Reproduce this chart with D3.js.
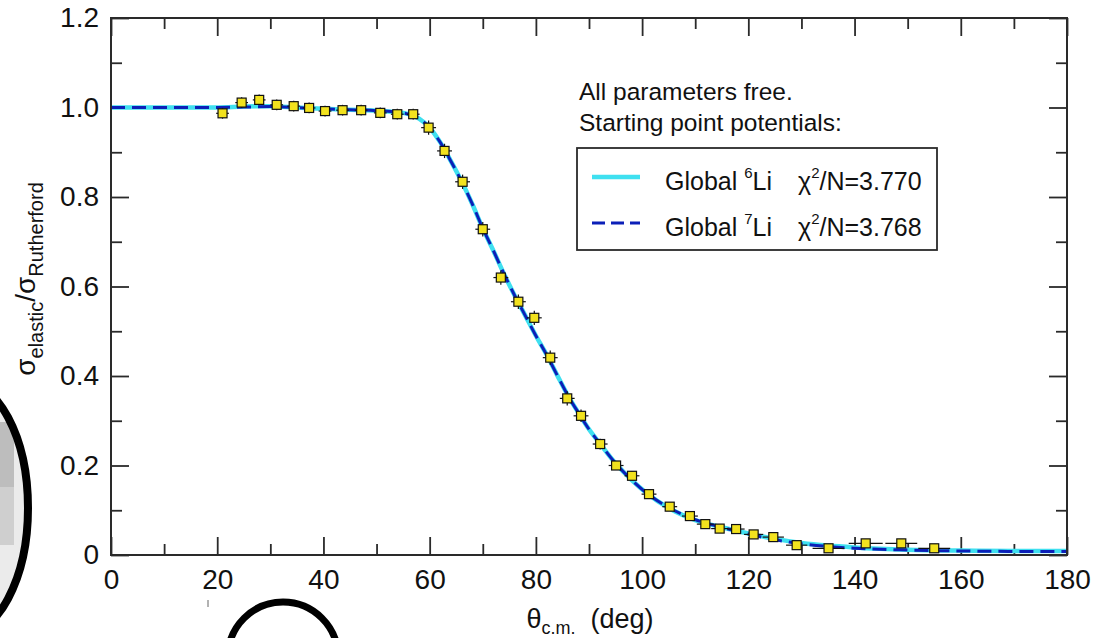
<!DOCTYPE html>
<html>
<head>
<meta charset="utf-8">
<script src="https://cdn.jsdelivr.net/npm/d3@7"></script>
<style>
  html, body { margin: 0; padding: 0; background: #fff; }
  svg { display: block; }
  text { font-family: "Liberation Sans", Arial, Helvetica, sans-serif; fill: #111; }
</style>
</head>
<body>
<svg id="chart" width="1105" height="638"></svg>
<script>
// ---------------- data ----------------
const expTheta = [21.0, 24.6, 27.9, 31.2, 34.4, 37.3, 40.3, 43.6, 47.1, 50.7, 53.9, 56.9,
  59.8, 62.8, 66.2, 70.0, 73.4, 76.7, 79.7, 82.7, 85.9, 88.5, 92.1, 95.1, 98.1, 101.3,
  105.2, 109.0, 111.9, 114.6, 117.7, 121.0, 124.7, 129.1, 135.1, 142.1, 148.8, 155.0];
const expRatio = [0.987, 1.011, 1.017, 1.006, 1.003, 0.999, 0.992, 0.994, 0.994, 0.988, 0.985, 0.985,
  0.955, 0.903, 0.834, 0.728, 0.620, 0.566, 0.530, 0.441, 0.350, 0.311, 0.248, 0.200, 0.177, 0.136,
  0.108, 0.087, 0.069, 0.059, 0.058, 0.046, 0.040, 0.022, 0.015, 0.026, 0.026, 0.015];
const expThetaErr = [1.2, 1.2, 1.2, 1.2, 1.2, 1.2, 1.2, 1.2, 1.2, 1.2, 1.2, 1.2,
  1.4, 1.4, 1.4, 1.4, 1.4, 1.4, 1.4, 1.4, 1.4, 1.4, 1.4, 1.4, 1.4, 1.4,
  1.4, 1.5, 1.6, 1.6, 1.6, 1.8, 2.0, 2.0, 3.0, 3.2, 3.0, 3.0];
const expRatioErr = [0.012, 0.012, 0.012, 0.012, 0.012, 0.012, 0.012, 0.012, 0.012, 0.012, 0.012, 0.012,
  0.016, 0.016, 0.016, 0.016, 0.016, 0.016, 0.016, 0.016, 0.016, 0.014, 0.012, 0.010, 0.010, 0.010,
  0.008, 0.008, 0.006, 0.006, 0.006, 0.006, 0.006, 0.006, 0.005, 0.005, 0.005, 0.005];

const curveTheta = [0, 10, 20, 25, 30, 35, 40, 45, 50, 55, 58, 60, 62, 64, 66, 68, 70, 72, 74, 76, 78,
  80, 82, 84, 86, 88, 90, 92, 95, 98, 101, 105, 110, 115, 120, 125, 130, 135, 140, 150, 160, 170, 180];
const li6Ratio = [1.0, 1.0, 1.0, 1.002, 1.003, 1.0, 0.997, 0.995, 0.993, 0.988, 0.975, 0.955, 0.922, 0.88,
  0.835, 0.785, 0.73, 0.68, 0.628, 0.58, 0.535, 0.49, 0.448, 0.402, 0.357, 0.318, 0.281, 0.25, 0.205,
  0.168, 0.137, 0.105, 0.078, 0.062, 0.048, 0.036, 0.027, 0.021, 0.017, 0.012, 0.010, 0.009, 0.009];
const li7Ratio = [1.0, 1.0, 1.0, 1.001, 1.002, 1.0, 0.997, 0.995, 0.993, 0.988, 0.975, 0.955, 0.922, 0.88,
  0.835, 0.785, 0.73, 0.68, 0.628, 0.58, 0.535, 0.49, 0.448, 0.402, 0.357, 0.318, 0.281, 0.25, 0.205,
  0.168, 0.137, 0.106, 0.079, 0.062, 0.047, 0.034, 0.025, 0.019, 0.015, 0.011, 0.009, 0.008, 0.008];

const xMajorTicks = [0, 20, 40, 60, 80, 100, 120, 140, 160, 180];
const xMinorTicks = [10, 30, 50, 70, 90, 110, 130, 150, 170];
const yMajorTicks = [0, 0.2, 0.4, 0.6, 0.8, 1.0, 1.2];
const yMinorTicks = [0.1, 0.3, 0.5, 0.7, 0.9, 1.1];
const yTickLabels = ["0", "0.2", "0.4", "0.6", "0.8", "1.0", "1.2"];

const seriesNames = ["Global", "Global"];
const seriesIso = ["6", "7"];
const seriesChi = ["3.770", "3.768"];
const noteLines = ["All parameters free.", "Starting point potentials:"];

// ---------------- layout ----------------
const svg = d3.select("#chart");
const L = 111, R = 1067, T = 18, B = 555;
const x = d3.scaleLinear().domain([0, 180]).range([L, R]);
const y = d3.scaleLinear().domain([0, 1.2]).range([B, T]);
const CYAN = "#3fe0f0", NAVY = "#0b1fb8", AX = "#2a2a2a";

// ---------- decorative ellipses present in the reference image ----------
const deco = svg.append("g");
const clip = svg.append("defs").append("clipPath").attr("id", "ellClip");
clip.append("ellipse").attr("cx", -40).attr("cy", 508).attr("rx", 68).attr("ry", 128);
const inner = deco.append("g").attr("clip-path", "url(#ellClip)");
inner.append("rect").attr("x", -120).attr("y", 370).attr("width", 200).attr("height", 280).attr("fill", "#ebebeb");
inner.append("rect").attr("x", -120).attr("y", 422).attr("width", 134).attr("height", 65).attr("fill", "#bdbdbd");
inner.append("rect").attr("x", -120).attr("y", 487).attr("width", 134).attr("height", 58).attr("fill", "#cfcfcf");
deco.append("ellipse").attr("cx", -40).attr("cy", 508).attr("rx", 68).attr("ry", 128)
  .attr("fill", "none").attr("stroke", "#000").attr("stroke-width", 8);
deco.append("ellipse").attr("cx", 283).attr("cy", 657).attr("rx", 55).attr("ry", 55)
  .attr("fill", "none").attr("stroke", "#000").attr("stroke-width", 7);
deco.append("line").attr("x1", 208).attr("x2", 208).attr("y1", 600).attr("y2", 607)
  .attr("stroke", "#666").attr("stroke-width", 1);

// ---------------- axes ----------------
function styleAxis(g) {
  g.select(".domain").remove();
  g.selectAll(".tick line").attr("stroke", AX).attr("stroke-width", 1.8);
  g.selectAll(".tick text").attr("fill", "#111").style("font-size", "28px")
    .style("font-family", "'Liberation Sans', Arial, sans-serif");
}
// bottom
svg.append("g").attr("transform", `translate(0,${B})`)
  .call(d3.axisBottom(x).tickValues(xMajorTicks).tickSizeInner(-18).tickSizeOuter(0).tickPadding(14).tickFormat(d3.format("d")))
  .call(styleAxis);
svg.append("g").attr("transform", `translate(0,${B})`)
  .call(d3.axisBottom(x).tickValues(xMinorTicks).tickSizeInner(-11).tickSizeOuter(0).tickFormat(""))
  .call(styleAxis);
// top
svg.append("g").attr("transform", `translate(0,${T})`)
  .call(d3.axisTop(x).tickValues(xMajorTicks).tickSizeInner(-18).tickSizeOuter(0).tickFormat(""))
  .call(styleAxis);
svg.append("g").attr("transform", `translate(0,${T})`)
  .call(d3.axisTop(x).tickValues(xMinorTicks).tickSizeInner(-11).tickSizeOuter(0).tickFormat(""))
  .call(styleAxis);
// left
svg.append("g").attr("transform", `translate(${L},0)`)
  .call(d3.axisLeft(y).tickValues(yMajorTicks).tickSizeInner(-18).tickSizeOuter(0).tickPadding(12)
    .tickFormat((d, i) => yTickLabels[i]))
  .call(styleAxis);
svg.append("g").attr("transform", `translate(${L},0)`)
  .call(d3.axisLeft(y).tickValues(yMinorTicks).tickSizeInner(-11).tickSizeOuter(0).tickFormat(""))
  .call(styleAxis);
// right
svg.append("g").attr("transform", `translate(${R},0)`)
  .call(d3.axisRight(y).tickValues(yMajorTicks).tickSizeInner(-18).tickSizeOuter(0).tickFormat(""))
  .call(styleAxis);
svg.append("g").attr("transform", `translate(${R},0)`)
  .call(d3.axisRight(y).tickValues(yMinorTicks).tickSizeInner(-11).tickSizeOuter(0).tickFormat(""))
  .call(styleAxis);

// ---------------- curves ----------------
const plot = svg.append("g");
const line = d3.line().x(d => x(d[0])).y(d => y(d[1])).curve(d3.curveMonotoneX);
plot.append("path").datum(curveTheta.map((t, i) => [t, li6Ratio[i]]))
  .attr("d", line).attr("fill", "none").attr("stroke", CYAN).attr("stroke-width", 4.5);
plot.append("path").datum(curveTheta.map((t, i) => [t, li7Ratio[i]]))
  .attr("d", line).attr("fill", "none").attr("stroke", NAVY).attr("stroke-width", 3)
  .attr("stroke-dasharray", "14,7");

// ---------------- data points ----------------
const pts = expTheta.map((t, i) => ({ t, v: expRatio[i], dt: expThetaErr[i], dv: expRatioErr[i] }));
const pg = plot.append("g").selectAll("g").data(pts).join("g");
pg.append("line").attr("x1", d => x(d.t - d.dt)).attr("x2", d => x(d.t + d.dt))
  .attr("y1", d => y(d.v)).attr("y2", d => y(d.v)).attr("stroke", "#111").attr("stroke-width", 1.2);
pg.append("line").attr("x1", d => x(d.t)).attr("x2", d => x(d.t))
  .attr("y1", d => y(d.v - d.dv)).attr("y2", d => y(d.v + d.dv)).attr("stroke", "#111").attr("stroke-width", 1.2);
pg.append("rect").attr("x", d => x(d.t) - 4.5).attr("y", d => y(d.v) - 4.5)
  .attr("width", 9).attr("height", 9).attr("fill", "#f2e21e").attr("stroke", "#111").attr("stroke-width", 1.2);

// ---------------- frame ----------------
svg.append("rect").attr("x", L).attr("y", T).attr("width", R - L).attr("height", B - T)
  .attr("fill", "none").attr("stroke", AX).attr("stroke-width", 2);

// ---------------- axis titles ----------------
const xt = svg.append("text").attr("x", 590).attr("y", 628).attr("text-anchor", "middle")
  .attr("xml:space", "preserve").style("font-size", "27px");
xt.append("tspan").text("θ");
xt.append("tspan").text("c.m.").style("font-size", "18px").attr("dy", 6);
xt.append("tspan").text("  (deg)").attr("dy", -6);

const yt = svg.append("text").attr("transform", "translate(35,279) rotate(-90)")
  .attr("text-anchor", "middle").style("font-size", "28px");
yt.append("tspan").text("σ");
yt.append("tspan").text("elastic").style("font-size", "20px").attr("dy", 8);
yt.append("tspan").text("/").attr("dy", -8);
yt.append("tspan").text("σ");
yt.append("tspan").text("Rutherford").style("font-size", "20px").attr("dy", 8);

// ---------------- notes & legend ----------------
noteLines.forEach((s, i) => {
  svg.append("text").attr("x", 579).attr("y", 100 + i * 31).style("font-size", "24.5px").text(s);
});
svg.append("rect").attr("x", 577).attr("y", 148).attr("width", 360).attr("height", 102)
  .attr("fill", "#fff").attr("stroke", AX).attr("stroke-width", 1.8);
const legY = [177, 223];
[0, 1].forEach(i => {
  const ly = legY[i];
  const ln = svg.append("line").attr("x1", 592).attr("x2", 640).attr("y1", ly).attr("y2", ly);
  if (i === 0) ln.attr("stroke", CYAN).attr("stroke-width", 4.5);
  else ln.attr("stroke", NAVY).attr("stroke-width", 3).attr("stroke-dasharray", "13,6");
  const by = ly + 13;
  const t1 = svg.append("text").attr("x", 665).attr("y", by).attr("xml:space", "preserve").style("font-size", "25px");
  t1.append("tspan").text(seriesNames[i] + " ");
  t1.append("tspan").text(seriesIso[i]).style("font-size", "15px").attr("dy", -12);
  t1.append("tspan").text("Li").attr("dy", 12);
  const t2 = svg.append("text").attr("x", 798).attr("y", by).style("font-size", "25px");
  t2.append("tspan").text("χ");
  t2.append("tspan").text("2").style("font-size", "15px").attr("dy", -12);
  t2.append("tspan").text("/N=" + seriesChi[i]).attr("dy", 12);
});
</script>
</body>
</html>
